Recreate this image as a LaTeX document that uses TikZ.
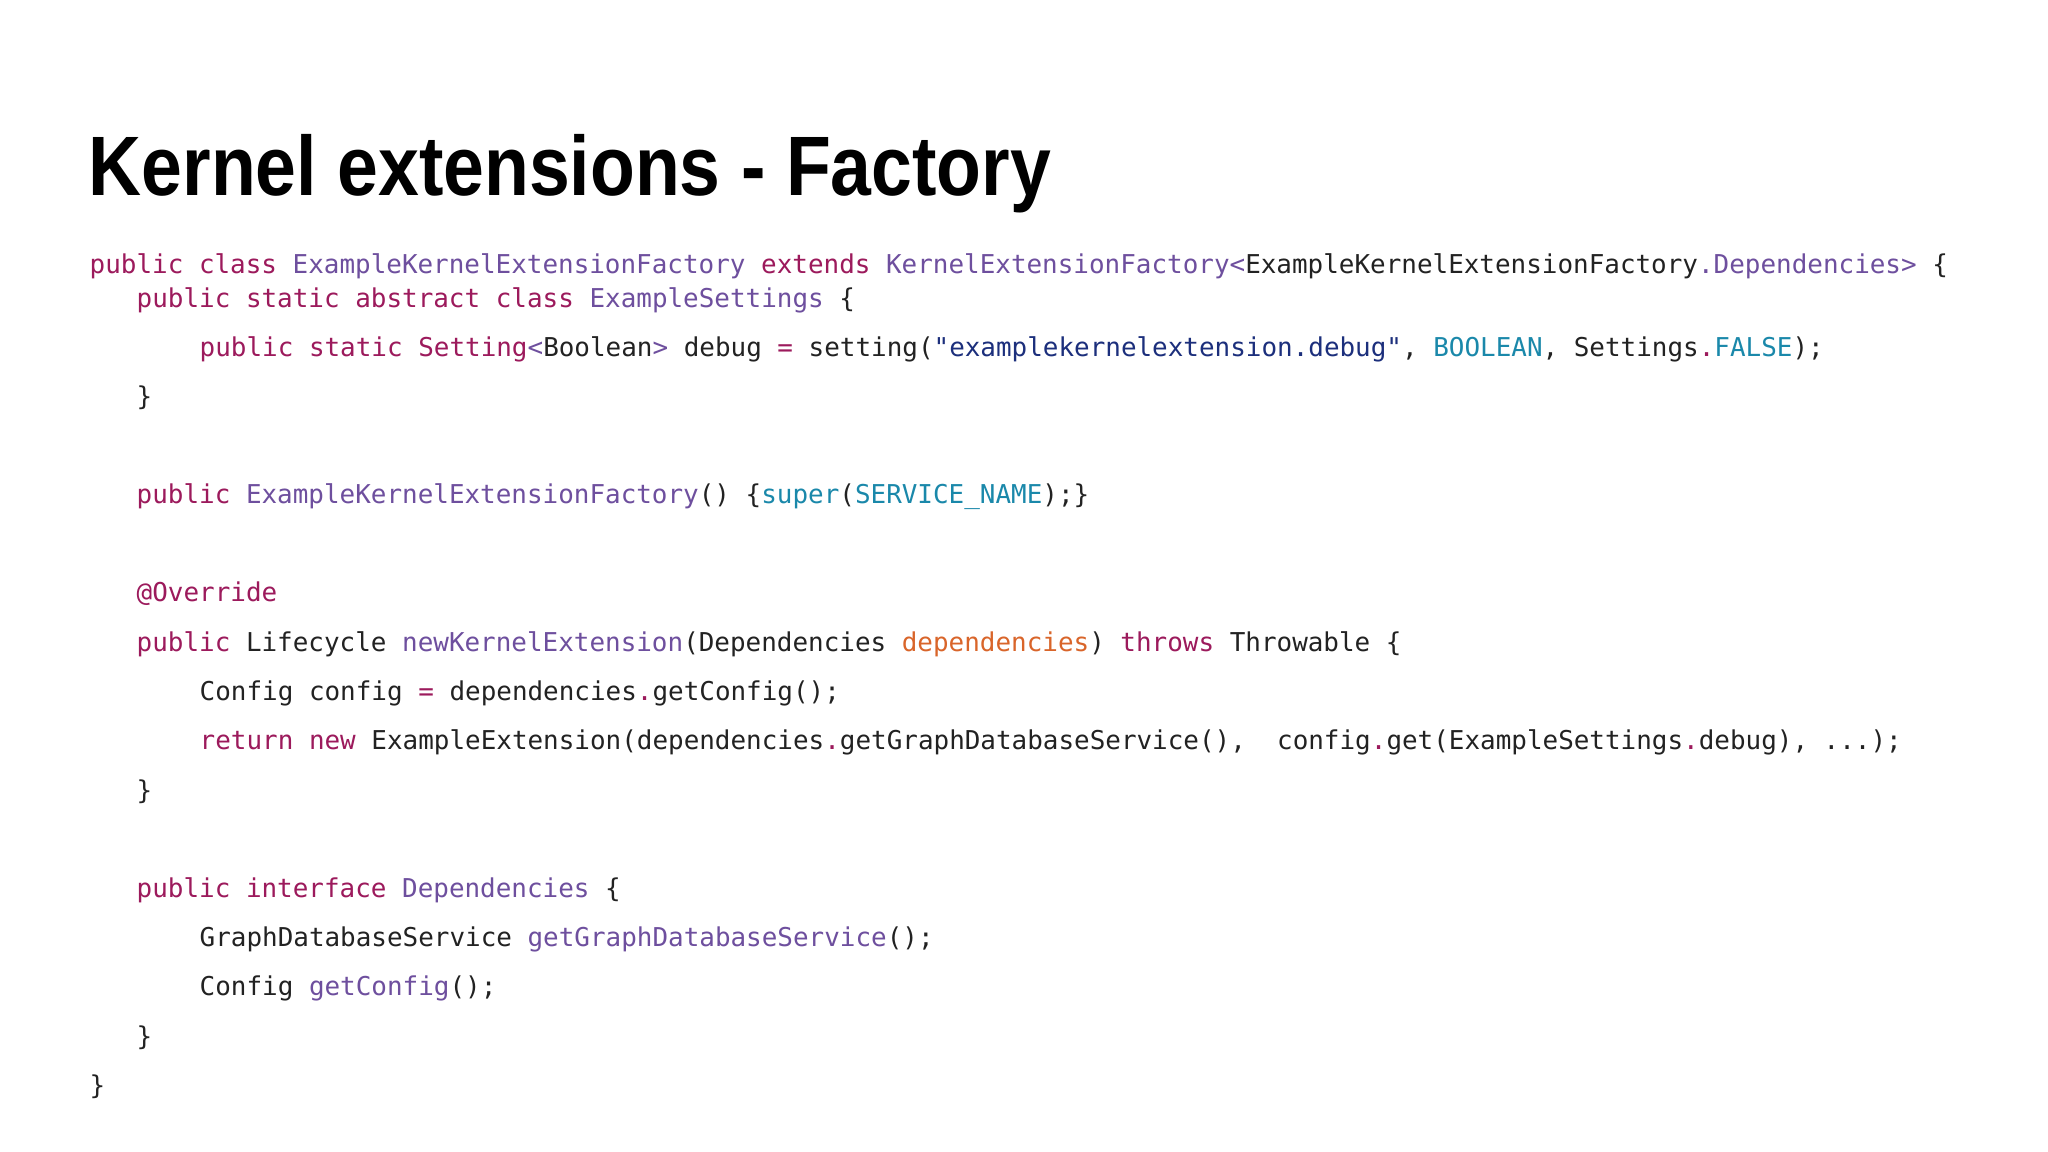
\documentclass[tikz,border=0pt]{standalone}
\usepackage{fontspec}
\setmainfont{Liberation Sans}
\newfontfamily\titlefont[FakeStretch=0.87]{Liberation Sans}
\newfontfamily\codefont{DejaVu Sans Mono}
\definecolor{kwc}{HTML}{9C1A5C}
\definecolor{clc}{HTML}{6E4F9E}
\definecolor{stc}{HTML}{1C2F7C}
\definecolor{csc}{HTML}{1A88AA}
\definecolor{orc}{HTML}{D9652A}
\definecolor{txc}{HTML}{222222}
\newcommand\Kw[1]{\textcolor{kwc}{#1}}
\newcommand\Cl[1]{\textcolor{clc}{#1}}
\newcommand\Str[1]{\textcolor{stc}{#1}}
\newcommand\Cst[1]{\textcolor{csc}{#1}}
\newcommand\Org[1]{\textcolor{orc}{#1}}
\begin{document}
\begin{tikzpicture}[
  code/.style={anchor=base west,inner sep=0pt,text=txc,font=\codefont\fontsize{7.38pt}{9pt}\selectfont}]
\fill[white] (0,0) rectangle (20.48,-11.52);
\node[anchor=base west,inner sep=0pt,font=\titlefont\bfseries\fontsize{24pt}{30pt}\selectfont] (title) at (0.88,-1.96) {Kernel extensions - Factory};
\node[code] (l1) at (0.89,-2.74) {\Kw{public class} \Cl{ExampleKernelExtensionFactory} \Kw{extends} \Cl{KernelExtensionFactory<}ExampleKernelExtensionFactory\Cl{.Dependencies>} \{};
\node[code] (l2) at (1.36,-3.08) {\Kw{public static abstract class} \Cl{ExampleSettings} \{};
\node[code] (l3) at (1.99,-3.57) {\Kw{public static Setting}\Cl{<}Boolean\Cl{>} debug \Kw{=} setting(\Str{"examplekernelextension.debug"}, \Cst{BOOLEAN}, Settings\Kw{.}\Cst{FALSE});};
\node[code] (l4) at (1.36,-4.06) {\}};
\node[code] (l5) at (1.36,-5.04) {\Kw{public} \Cl{ExampleKernelExtensionFactory}() \{\Cst{super}(\Cst{SERVICE\_NAME});\}};
\node[code] (l6) at (1.36,-6.02) {\Kw{@Override}};
\node[code] (l7) at (1.36,-6.52) {\Kw{public} Lifecycle \Cl{newKernelExtension}(Dependencies \Org{dependencies}) \Kw{throws} Throwable \{};
\node[code] (l8) at (1.99,-7.00) {Config config \Kw{=} dependencies\Kw{.}getConfig();};
\node[code] (l9) at (1.99,-7.50) {\Kw{return new} ExampleExtension(dependencies\Kw{.}getGraphDatabaseService(),~~config\Kw{.}get(ExampleSettings\Kw{.}debug), ...);};
\node[code] (l10) at (1.36,-7.99) {\}};
\node[code] (l11) at (1.36,-8.97) {\Kw{public interface} \Cl{Dependencies} \{};
\node[code] (l12) at (1.99,-9.46) {GraphDatabaseService \Cl{getGraphDatabaseService}();};
\node[code] (l13) at (1.99,-9.95) {Config \Cl{getConfig}();};
\node[code] (l14) at (1.36,-10.45) {\}};
\node[code] (l15) at (0.89,-10.94) {\}};
\end{tikzpicture}
\end{document}
